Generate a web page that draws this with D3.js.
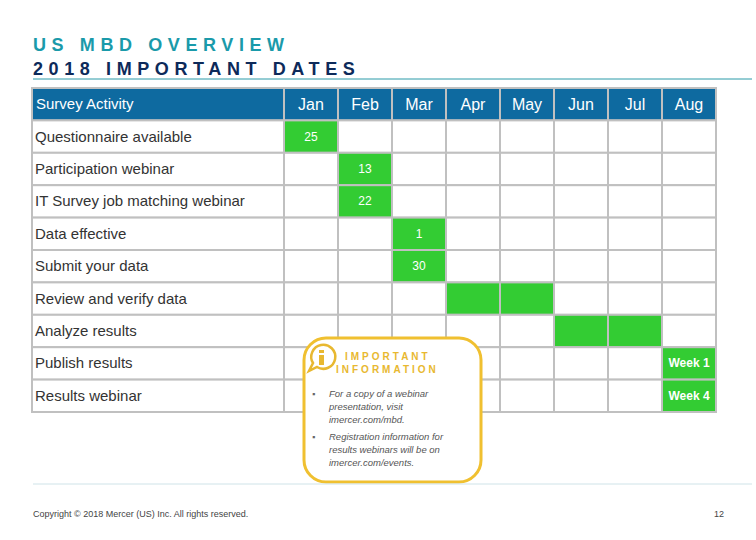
<!DOCTYPE html><html><head><meta charset="utf-8"><script src="https://cdn.jsdelivr.net/npm/d3@7"></script>
<style>body{margin:0;background:#fff}text{font-family:Arial,"Liberation Sans",sans-serif}</style></head><body><svg width="756" height="540"></svg><script>
const months=["Jan","Feb","Mar","Apr","May","Jun","Jul","Aug"];
const activities=["Questionnaire available","Participation webinar","IT Survey job matching webinar","Data effective","Submit your data","Review and verify data","Analyze results","Publish results","Results webinar"];
const startMonth=[0,1,1,2,2,3,5,7,7];
const endMonth=[0,1,1,2,2,4,6,7,7];
const cellLabels=["25","13","22","1","30","","","Week 1","Week 4"];
const svg=d3.select("svg");
const x=d3.scaleBand().domain(months).range([284,716]);
const y=d3.scaleBand().domain(["head",...activities]).range([88,412]);
const grey="#c0c0c0",green="#33cc33",blue="#0e6aa0";
svg.append("text").attr("x",33).attr("y",51).attr("fill","#1a9aaa").attr("font-size",18).attr("font-weight","bold").attr("letter-spacing",5.6).text("US MBD OVERVIEW");
svg.append("text").attr("x",33).attr("y",75).attr("fill","#0d2a5a").attr("font-size",18).attr("font-weight","bold").attr("letter-spacing",5.6).text("2018 IMPORTANT DATES");
svg.append("line").attr("x1",33).attr("x2",752).attr("y1",79).attr("y2",79).attr("stroke","#2a9aa8").attr("stroke-width",1);
svg.append("rect").attr("x",32).attr("y",y("head")).attr("width",252).attr("height",y.bandwidth()).attr("fill",blue).attr("stroke",grey).attr("stroke-width",2);
svg.append("text").attr("x",36).attr("y",y("head")+y.bandwidth()/2+5).attr("fill","#fff").attr("font-size",15).text("Survey Activity");
months.forEach(m=>{svg.append("rect").attr("x",x(m)).attr("y",y("head")).attr("width",x.bandwidth()).attr("height",y.bandwidth()).attr("fill",blue).attr("stroke",grey).attr("stroke-width",2);
svg.append("text").attr("x",x(m)+x.bandwidth()/2).attr("y",y("head")+y.bandwidth()/2+6).attr("text-anchor","middle").attr("fill","#fff").attr("font-size",16).text(m);});
activities.forEach((a,i)=>{const yy=y(a),h=y.bandwidth();
svg.append("rect").attr("x",32).attr("y",yy).attr("width",252).attr("height",h).attr("fill","#fff").attr("stroke",grey).attr("stroke-width",2);
svg.append("text").attr("x",35).attr("y",yy+h/2+5).attr("fill","#333").attr("font-size",15).text(a);
months.forEach((m,j)=>{const on=j>=startMonth[i]&&j<=endMonth[i];
svg.append("rect").attr("x",x(m)).attr("y",yy).attr("width",x.bandwidth()).attr("height",h).attr("fill",on?green:"#fff").attr("stroke",grey).attr("stroke-width",2);
if(on&&cellLabels[i]) svg.append("text").attr("x",x(m)+x.bandwidth()/2).attr("y",yy+h/2+4).attr("text-anchor","middle").attr("fill","#fff").attr("font-size",12).attr("font-weight",cellLabels[i].startsWith("W")?"bold":"normal").text(cellLabels[i]);});});
svg.append("rect").attr("x",304).attr("y",338).attr("width",177).attr("height",144).attr("rx",22).attr("fill","#fff").attr("stroke","#f0c030").attr("stroke-width",3);
svg.append("path").attr("d","M321,345 a12,12 0 1 1 -4,22 l-8,4 l4,-8 a12,12 0 0 1 8,-18z").attr("fill","#fff").attr("stroke","#e8b830").attr("stroke-width",2.5);
svg.append("rect").attr("x",319).attr("y",350).attr("width",5).attr("height",3).attr("fill","#e8b830");
svg.append("rect").attr("x",319).attr("y",355).attr("width",5).attr("height",10).attr("fill","#e8b830");
svg.append("text").attr("x",345).attr("y",360).attr("fill","#e8b830").attr("font-size",10).attr("font-weight","bold").attr("letter-spacing",3).text("IMPORTANT");
svg.append("text").attr("x",336).attr("y",373).attr("fill","#e8b830").attr("font-size",10).attr("font-weight","bold").attr("letter-spacing",3).text("INFORMATION");
const notes=[["For a copy of a webinar","presentation, visit","imercer.com/mbd."],["Registration information for","results webinars will be on","imercer.com/events."]];
[397,440].forEach((y0,k)=>{svg.append("text").attr("x",312).attr("y",y0).attr("fill","#666").attr("font-size",9).text("▪");
notes[k].forEach((t,l)=>svg.append("text").attr("x",329).attr("y",y0+l*13).attr("fill","#555").attr("font-size",9.5).attr("font-style","italic").text(t));});
svg.append("line").attr("x1",33).attr("x2",752).attr("y1",484).attr("y2",484).attr("stroke","#cfe3e8");
svg.append("text").attr("x",33).attr("y",517).attr("fill","#444").attr("font-size",9).text("Copyright © 2018 Mercer (US) Inc. All rights reserved.");
svg.append("text").attr("x",724).attr("y",517).attr("text-anchor","end").attr("fill","#444").attr("font-size",9).text("12");
</script></body></html>
